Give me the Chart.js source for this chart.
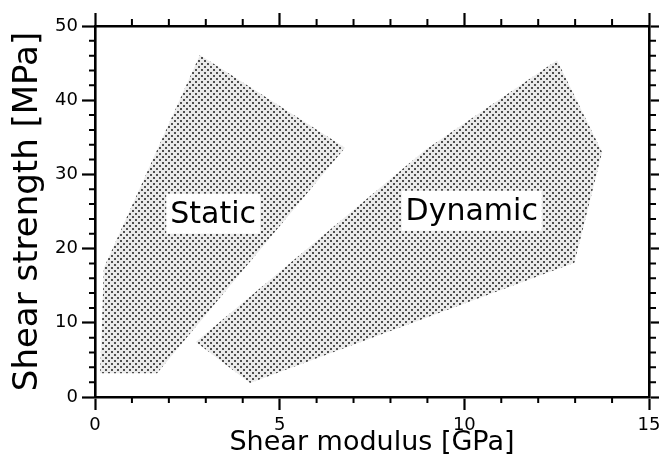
<!DOCTYPE html>
<html>
<head>
<meta charset="utf-8">
<script src="https://cdn.jsdelivr.net/npm/chart.js@4/dist/chart.umd.min.js"></script>
<style>
  html, body { margin: 0; padding: 0; background: #fff; }
  #wrap { width: 659px; height: 475px; position: relative; }
</style>
</head>
<body>
<div id="wrap"><canvas id="chart"></canvas></div>
<script>
// Envelope of shear strength vs. shear modulus, static and dynamic tests
const staticModulus   = [2.84, 6.77, 1.68, 0.14, 0.24];
const staticStrength  = [46.1, 33.6, 3.2, 3.2, 17.4];
const dynamicModulus  = [2.73, 8.94, 12.51, 13.73, 12.98, 4.20];
const dynamicStrength = [7.4, 33.3, 45.4, 33.0, 18.1, 1.9];

// Region captions and where they sit (data units)
const regionNames  = ['Static', 'Dynamic'];
const regionLabelX = [3.2, 10.2];
const regionLabelY = [24.7, 25.1];

// Axis ticks
const xMajorTicks = [0, 5, 10, 15];
const xMinorTicks = [1, 2, 3, 4, 6, 7, 8, 9, 11, 12, 13, 14];
const yMajorTicks = [0, 10, 20, 30, 40, 50];
const yMinorTicks = [2, 4, 6, 8, 12, 14, 16, 18, 22, 24, 26, 28, 32, 34, 36, 38, 42, 44, 46, 48];

const FONT = 'DejaVu Sans';

function toPoints(xs, ys) {
  return xs.map((x, i) => ({ x: x, y: ys[i] }));
}

// Halftone-like stipple used for the filled regions
function stipple() {
  const t = document.createElement('canvas');
  t.width = 6; t.height = 6;
  const g = t.getContext('2d');
  g.fillStyle = '#ebebeb';
  g.fillRect(0, 0, 6, 6);
  g.fillStyle = '#505050';
  g.fillRect(0, 0, 2, 2);
  g.fillRect(3, 3, 2, 2);
  return g.createPattern(t, 'repeat');
}
const fillPattern = stipple();

function setTicks(values) {
  return function (scale) { scale.ticks = values.map(v => ({ value: v })); };
}

const gridStyle = {
  drawOnChartArea: false,
  drawTicks: true,
  tickLength: 13,
  tickWidth: 2.2,
  tickColor: '#000'
};
const borderStyle = { display: true, color: '#000', width: 2.6 };

// Short outward minor ticks on all four sides
const minorTickPlugin = {
  id: 'minorTicks',
  afterDraw(chart) {
    const { ctx } = chart;
    const { x, xTop, y, yRight } = chart.scales;
    ctx.save();
    ctx.strokeStyle = '#000';
    ctx.lineWidth = 2;
    ctx.beginPath();
    xMinorTicks.forEach(v => {
      const px = x.getPixelForValue(v);
      ctx.moveTo(px, x.top);
      ctx.lineTo(px, x.top + 6);
      ctx.moveTo(px, xTop.bottom);
      ctx.lineTo(px, xTop.bottom - 7);
    });
    yMinorTicks.forEach(v => {
      const py = y.getPixelForValue(v);
      ctx.moveTo(y.right, py);
      ctx.lineTo(y.right - 6, py);
      ctx.moveTo(yRight.left, py);
      ctx.lineTo(yRight.left + 7, py);
    });
    ctx.stroke();
    ctx.restore();
  }
};

// Region captions on white boxes
const regionLabelPlugin = {
  id: 'regionLabels',
  afterDatasetsDraw(chart) {
    const { ctx } = chart;
    const { x, y } = chart.scales;
    ctx.save();
    ctx.font = '30px "' + FONT + '"';
    ctx.textAlign = 'center';
    ctx.textBaseline = 'middle';
    regionNames.forEach((name, i) => {
      const cx = x.getPixelForValue(regionLabelX[i]);
      const cy = y.getPixelForValue(regionLabelY[i]);
      const w = ctx.measureText(name).width + 8;
      const h = 40;
      ctx.fillStyle = '#fff';
      ctx.fillRect(cx - w / 2, cy - h / 2, w, h);
      ctx.fillStyle = '#000';
      ctx.fillText(name, cx, cy + 1);
    });
    ctx.restore();
  }
};

const regionStyle = {
  showLine: true,
  fill: 'shape',
  backgroundColor: fillPattern,
  borderColor: 'rgba(0,0,0,0)',
  borderWidth: 0,
  pointRadius: 0,
  pointHoverRadius: 0,
  tension: 0
};

new Chart(document.getElementById('chart'), {
  type: 'line',
  data: {
    datasets: [
      Object.assign({ label: regionNames[0], data: toPoints(staticModulus, staticStrength) }, regionStyle),
      Object.assign({ label: regionNames[1], data: toPoints(dynamicModulus, dynamicStrength) }, regionStyle)
    ]
  },
  options: {
    responsive: true,
    maintainAspectRatio: false,
    animation: false,
    devicePixelRatio: 1,
    layout: { padding: 0 },
    plugins: {
      legend: { display: false },
      tooltip: { enabled: false },
      title: { display: false }
    },
    scales: {
      x: {
        type: 'linear', position: 'bottom', min: 0, max: 15,
        afterBuildTicks: setTicks(xMajorTicks),
        afterFit(s) { s.height = 78; s.paddingLeft = 0; s.paddingRight = 0; },
        ticks: { font: { family: FONT, size: 18 }, color: '#000', padding: 5, maxRotation: 0, autoSkip: false },
        grid: gridStyle,
        border: borderStyle,
        title: { display: true, text: 'Shear modulus [GPa]', color: '#000', font: { family: FONT, size: 27 }, padding: { top: 0, bottom: 16 } }
      },
      xTop: {
        type: 'linear', position: 'top', min: 0, max: 15,
        afterBuildTicks: setTicks(xMajorTicks),
        afterFit(s) { s.height = 26; s.paddingLeft = 0; s.paddingRight = 0; },
        ticks: { display: false },
        grid: gridStyle,
        border: borderStyle
      },
      y: {
        type: 'linear', position: 'left', min: 0, max: 50,
        afterBuildTicks: setTicks(yMajorTicks),
        afterFit(s) { s.width = 95; s.paddingTop = 0; s.paddingBottom = 0; },
        ticks: { font: { family: FONT, size: 18 }, color: '#000', padding: 4 },
        grid: gridStyle,
        border: borderStyle,
        title: { display: true, text: 'Shear strength [MPa]', color: '#000', font: { family: FONT, size: 34 }, padding: { top: 8, bottom: 0 } }
      },
      yRight: {
        type: 'linear', position: 'right', min: 0, max: 50,
        afterBuildTicks: setTicks(yMajorTicks),
        afterFit(s) { s.width = 10; s.paddingTop = 0; s.paddingBottom = 0; },
        ticks: { display: false },
        grid: gridStyle,
        border: borderStyle
      }
    }
  },
  plugins: [minorTickPlugin, regionLabelPlugin]
});
</script>
</body>
</html>
